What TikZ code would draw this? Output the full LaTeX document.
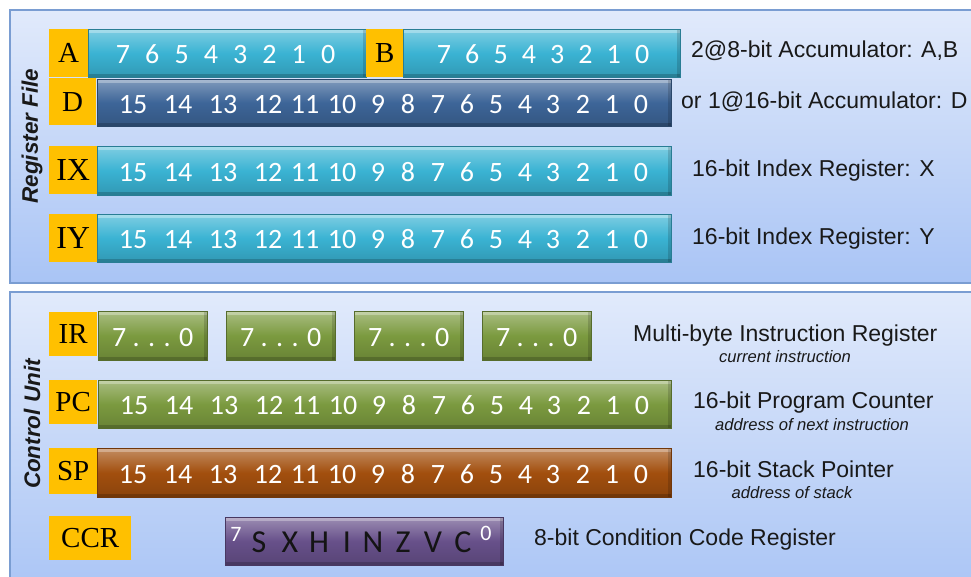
\documentclass[tikz,border=0pt]{standalone}
\usepackage{fontspec}
\setmainfont{Liberation Sans}
\newfontfamily\barfont{Carlito}
\newfontfamily\tagfont{Liberation Serif}
\usetikzlibrary{calc,positioning}
\definecolor{paneltop}{HTML}{E1EAFB}
\definecolor{panelbot}{HTML}{A9C4F5}
\definecolor{panelline}{HTML}{7A9DD2}
\definecolor{tagorange}{HTML}{FFC000}
\definecolor{barcyan}{HTML}{3AB3D3}
\definecolor{barblue}{HTML}{3D6598}
\definecolor{bargreen}{HTML}{7B9A3F}
\definecolor{barbrown}{HTML}{A24F0E}
\definecolor{barpurple}{HTML}{67508A}
\tikzset{
  panel/.style={draw=panelline, line width=1.5pt, top color=paneltop, bottom color=panelbot},
  regtag/.style={fill=tagorange, anchor=north west, inner sep=0pt,
    font=\tagfont\fontsize{29}{29}\selectfont},
  regbar/.style={anchor=north west, inner sep=0pt, draw=#1!70!black, line width=0.5pt,
    top color=#1!65!white, bottom color=#1!85!black, middle color=#1,
    path picture={
      \fill[white,opacity=0.3] (path picture bounding box.north west)
        rectangle ([yshift=-4pt]path picture bounding box.north east);
      \fill[black,opacity=0.18] (path picture bounding box.south west)
        rectangle ([yshift=3pt]path picture bounding box.south east);
      \fill[black,opacity=0.15] ([xshift=-3pt]path picture bounding box.north east)
        rectangle (path picture bounding box.south east);}},
  bitnum/.style={anchor=base, text=white, inner sep=0pt,
    font=\barfont\fontsize{28}{28}\selectfont},
  regnote/.style={anchor=base west, inner sep=0pt, text=black!90,
    font=\fontsize{23}{23}\selectfont},
  regsub/.style={anchor=base, inner sep=0pt, text=black!90,
    font=\itshape\fontsize{16.6}{16.6}\selectfont},
  unittitle/.style={rotate=90, inner sep=0pt, text=black!90,
    font=\bfseries\itshape\fontsize{22.5}{22.5}\selectfont}
}
% bit numbers of a 16-bit register
\newcommand{\wordbits}[1]{%
  \foreach \b/\o in {15/36,14/81,13/126,12/171,11/208,10/245,9/281,8/311,
                     7/341,6/370,5/399,4/428,3/456,2/486,1/515,0/544}
    \node[bitnum] (#1-\b) at ($(#1.west)+(\o,10.5)$) {\b};}
% bit numbers of an 8-bit register: name, first offset, pitch
\newcommand{\bytebits}[3]{%
  \foreach \b [count=\k from 0] in {7,...,0}
    \node[bitnum] (#1-\b) at ($(#1.west)+(#2+#3*\k,10.5)$) {\b};}

\begin{document}
\begin{tikzpicture}[x=1pt,y=-1pt]
  \useasboundingbox (0,0) rectangle (971,576);
  \clip (0,0) rectangle (971,576);
  \fill[white] (0,0) rectangle (971,576);
  % panels
  \draw[panel] (10,10) rectangle (995,283);
  \draw[panel] (10,292) rectangle (995,600);
  \node[unittitle] (rftitle) at (32,136) {Register File};
  \node[unittitle] (cutitle) at (32,424) {Control Unit};

  % register file
  \node[regtag, minimum width=39pt, minimum height=48pt] (tA) at (49,29) {A};
  \node[regbar=barcyan, minimum width=278pt, minimum height=48pt] (rA) at (88,29) {};
  \bytebits{rA}{35}{29.3}
  \node[regtag, minimum width=37pt, minimum height=48pt] (tB) at (366,29) {B};
  \node[regbar=barcyan, minimum width=277pt, minimum height=48pt] (rB) at (403,29) {};
  \bytebits{rB}{41}{28.3}
  \node[regtag, minimum width=47pt, minimum height=47pt] (tD) at (49,78) {D};
  \node[regbar=barblue, minimum width=574pt, minimum height=47pt] (rD) at (97,79) {};
  \wordbits{rD}
  \node[regtag, minimum width=48pt, minimum height=48pt,
        font=\tagfont\fontsize{32}{32}\selectfont] (tIX) at (49,146) {IX};
  \node[regbar=barcyan, minimum width=574pt, minimum height=49pt] (rIX) at (97,146) {};
  \wordbits{rIX}
  \node[regtag, minimum width=48pt, minimum height=48pt,
        font=\tagfont\fontsize{32}{32}\selectfont] (tIY) at (49,214) {IY};
  \node[regbar=barcyan, minimum width=574pt, minimum height=48pt] (rIY) at (97,214) {};
  \wordbits{rIY}

  \node[regnote] (nAB) at (691,57) {2@8-bit Accumulator: A,B};
  \node[regnote] (nD) at (681,108) {or 1@16-bit Accumulator: D};
  \node[regnote] (nIX) at (692,176) {16-bit Index Register: X};
  \node[regnote] (nIY) at (692,244) {16-bit Index Register: Y};

  % control unit
  \node[regtag, minimum width=48pt, minimum height=44pt] (tIR) at (49,312) {IR};
  \foreach \i/\x in {1/98,2/226,3/354,4/482} {
    \node[regbar=bargreen, minimum width=109pt, minimum height=49pt] (ir\i) at (\x,311) {};
    \node[bitnum] (ir\i-t) at ($(ir\i.center)+(0,10.5)$) {7 . . . 0};
  }
  \node[regtag, minimum width=48pt, minimum height=44pt] (tPC) at (49,380) {PC};
  \node[regbar=bargreen, minimum width=573pt, minimum height=48pt] (rPC) at (98,380) {};
  \wordbits{rPC}
  \node[regtag, minimum width=48pt, minimum height=46pt] (tSP) at (49,448) {SP};
  \node[regbar=barbrown, minimum width=574pt, minimum height=49pt] (rSP) at (97,448) {};
  \wordbits{rSP}
  \node[regtag, minimum width=82pt, minimum height=44pt] (tCCR) at (49,516) {CCR};
  \node[regbar=barpurple, minimum width=278pt, minimum height=48pt] (rCCR) at (225,517) {};
  \node[bitnum, font=\barfont\fontsize{22}{22}\selectfont] (ccr-hi) at ($(rCCR.west)+(11,0)$) {7};
  \foreach \f/\o in {S/34,X/65,H/94,I/122,N/148,Z/178,V/208,C/238}
    \node[bitnum, text=black!92, font=\barfont\fontsize{32}{32}\selectfont]
      (ccr-\f) at ($(rCCR.west)+(\o,11)$) {\f};
  \node[bitnum, font=\barfont\fontsize{22}{22}\selectfont] (ccr-lo) at ($(rCCR.west)+(261,-1)$) {0};

  \node[regnote] (nIR) at (633,341) {Multi-byte Instruction Register};
  \node[regsub] (sIR) at (785,362) {current instruction};
  \node[regnote] (nPC) at (693,408) {16-bit Program Counter};
  \node[regsub] (sPC) at (812,430) {address of next instruction};
  \node[regnote] (nSP) at (693,477) {16-bit Stack Pointer};
  \node[regsub] (sSP) at (792,498) {address of stack};
  \node[regnote] (nCCR) at (534,545) {8-bit Condition Code Register};
\end{tikzpicture}
\end{document}
